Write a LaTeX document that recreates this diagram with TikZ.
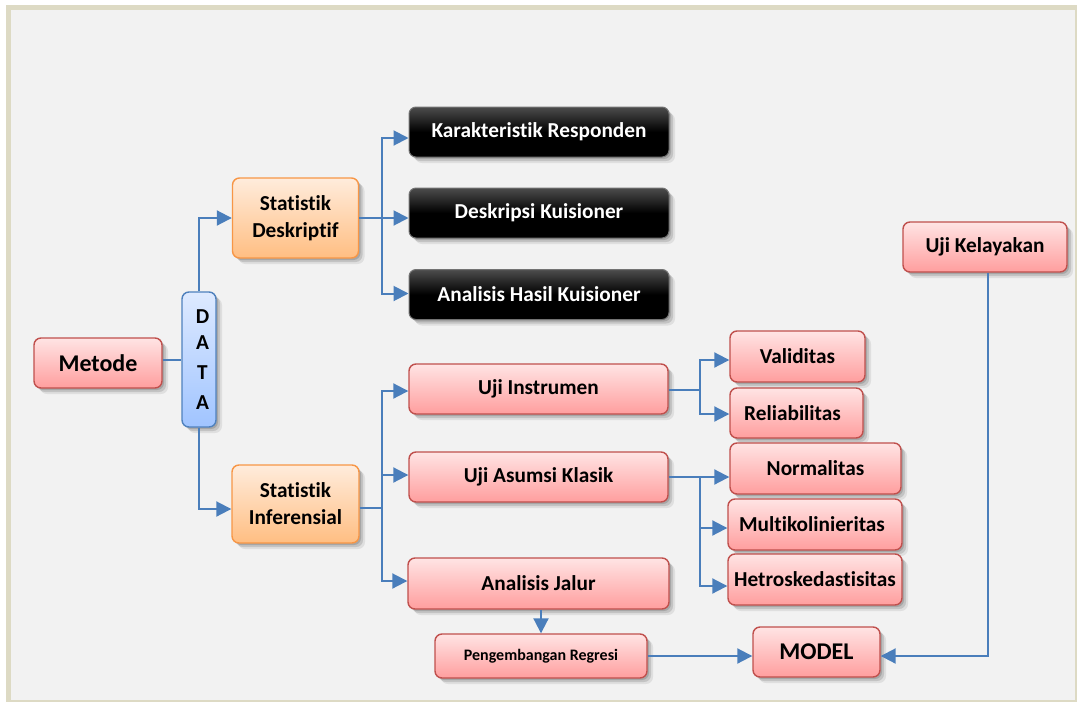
\documentclass[tikz,border=0pt]{standalone}
\usepackage{fontspec}
\setmainfont{Carlito}[Ligatures=NoCommon]
\usetikzlibrary{arrows.meta,shadows}

\definecolor{linkblue}{RGB}{74,126,187}
\definecolor{framebeige}{RGB}{221,218,196}
\definecolor{panel}{RGB}{242,242,242}
\definecolor{pinktop}{RGB}{255,228,228}
\definecolor{pinkbot}{RGB}{255,158,158}
\definecolor{pinkedge}{RGB}{192,80,77}
\definecolor{orangetop}{RGB}{255,236,220}
\definecolor{orangebot}{RGB}{255,190,130}
\definecolor{orangeedge}{RGB}{247,150,70}
\definecolor{bluetop}{RGB}{222,234,255}
\definecolor{bluebot}{RGB}{160,196,255}
\definecolor{blueedge}{RGB}{79,129,189}

\tikzset{
  softshadow/.style={
    drop shadow={shadow xshift=2pt,shadow yshift=-2pt,opacity=.14,fill=black},
    drop shadow={shadow xshift=4pt,shadow yshift=-4pt,opacity=.12,fill=black},
    drop shadow={shadow xshift=6pt,shadow yshift=-6pt,opacity=.08,fill=black}},
  sz/.style 2 args={minimum width=#1pt,minimum height=#2pt},
  box/.style={rounded corners=7pt,line width=1.4pt,align=center,inner sep=0pt,
    softshadow,font=\fontsize{21.3}{27}\selectfont\bfseries},
  pinkbox/.style={box,draw=pinkedge,top color=pinktop,bottom color=pinkbot},
  orangebox/.style={box,draw=orangeedge,top color=orangetop,bottom color=orangebot},
  bluebox/.style={box,draw=blueedge,top color=bluetop,bottom color=bluebot,
    font=\fontsize{21.3}{30}\selectfont\bfseries},
  darkbox/.style={box,draw=black!55,line width=1pt,top color=black!70,bottom color=black,
    middle color=black,text=white},
  link/.style={draw=linkblue,line width=2pt},
  linkarrow/.style={link,-{Triangle[length=15pt,width=15pt]}},
}

\begin{document}
\begin{tikzpicture}[x=1pt,y=-1pt]
  \useasboundingbox (0,0) rectangle (1077,702);
  % frame and panel
  \fill[white] (0,0) rectangle (1077,702);
  \fill[framebeige] (6,5) rectangle (1077,702);
  \fill[panel] (11,10) rectangle (1075,700);

  % left column
  \node[pinkbox,sz={128}{50},font=\fontsize{24}{28}\selectfont\bfseries] (metode) at (98,363) {\raisebox{-2pt}{Metode}};
  \node[bluebox,sz={34}{135}] (data) at (199,359.5) {\raisebox{-4pt}{\hspace*{7pt}D}\\\hspace*{7pt}A\\\hspace*{7pt}T\\\hspace*{7pt}A};
  \node[orangebox,sz={126}{80}] (sd) at (295.5,218) {Statistik\\Deskriptif};
  \node[orangebox,sz={127}{78}] (si) at (295.5,504) {Statistik\\Inferensial};

  % descriptive outputs
  \node[darkbox,sz={260}{50}] (karak) at (539,132) {Karakteristik Responden};
  \node[darkbox,sz={260}{50}] (desk) at (539,213) {Deskripsi Kuisioner};
  \node[darkbox,sz={260}{50}] (ahk) at (539,294.5) {Analisis Hasil Kuisioner};

  % inferential steps
  \node[pinkbox,sz={259}{50}] (ujiins) at (538.5,389) {Uji Instrumen};
  \node[pinkbox,sz={259}{50}] (ujias) at (538.5,477) {Uji Asumsi Klasik};
  \node[pinkbox,sz={261}{51}] (aj) at (538.5,583.5) {Analisis Jalur};
  \node[pinkbox,sz={212}{44},font=\fontsize{16}{20}\selectfont\bfseries] (pr) at (541,656) {Pengembangan Regresi};
  \node[pinkbox,sz={127}{50},font=\fontsize{24}{28}\selectfont\bfseries] (model) at (816.5,652) {\raisebox{-2pt}{MODEL}};
  \node[pinkbox,sz={164}{50}] (ujikel) at (985,247) {Uji Kelayakan};

  % tests
  \node[pinkbox,sz={135}{51}] (valid) at (797.5,356.5) {Validitas};
  \node[pinkbox,sz={133}{50}] (reli) at (796.5,413) {Reliabilitas\hspace*{8pt}};
  \node[pinkbox,sz={171}{51}] (norm) at (815.5,468.5) {Normalitas};
  \node[pinkbox,sz={174}{51}] (multi) at (815,524.5) {Multikolinieritas\hspace*{6pt}};
  \node[pinkbox,sz={174}{51}] (hetro) at (815,579.5) {Hetroskedastisitas};

  % connectors from Metode and DATA
  \draw[link] (metode.east |- 0,360) -- (data.west |- 0,360);
  \draw[linkarrow] (data.north) |- (sd.west);
  \draw[linkarrow] (data.south) |- ([yshift=-5pt]si.west);

  % descriptive branch
  \coordinate (bd) at (382,218);
  \draw[link] (sd.east) -- (bd);
  \draw[linkarrow] (bd) |- ([yshift=-6pt]karak.west);
  \draw[linkarrow] (bd) -- (desk.west |- bd);
  \draw[linkarrow] (bd) |- ([yshift=1pt]ahk.west);

  % inferential branch
  \coordinate (bi) at (382,508);
  \draw[link] ([yshift=-4pt]si.east) -- (bi);
  \draw[linkarrow] (bi) |- ([yshift=-2pt]ujiins.west);
  \draw[linkarrow] (bi) |- ([yshift=2pt]ujias.west);
  \draw[linkarrow] (bi) |- ([yshift=2.5pt]aj.west);

  % instrument tests
  \coordinate (bv) at (700,390);
  \draw[link] ([yshift=-1pt]ujiins.east) -- (bv);
  \draw[linkarrow] (bv) |- ([yshift=-3.5pt]valid.west);
  \draw[linkarrow] (bv) |- ([yshift=-1pt]reli.west);

  % classical assumption tests
  \coordinate (ba) at (700,477);
  \draw[linkarrow] (ujias.east) -- (norm.west |- ba);
  \draw[linkarrow] (ba) |- ([yshift=-3.5pt]multi.west);
  \draw[linkarrow] (ba) |- ([yshift=-6.5pt]hetro.west);

  % path analysis to model
  \draw[linkarrow] (pr.north |- aj.south) -- (pr.north);
  \draw[linkarrow] (pr.east) -- (pr.east -| model.west);
  \draw[linkarrow] ([xshift=3pt]ujikel.south) |- (pr.east -| model.east);
\end{tikzpicture}
\end{document}
